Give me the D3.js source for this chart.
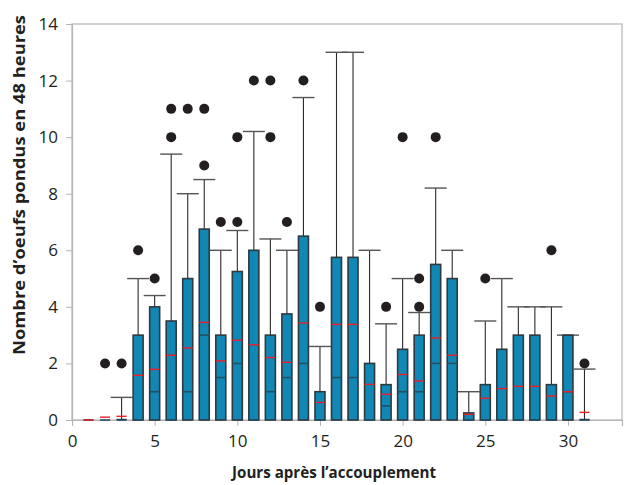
<!DOCTYPE html>
<html>
<head>
<meta charset="utf-8">
<script src="https://cdn.jsdelivr.net/npm/d3@7"></script>
<style>
  body { margin: 0; background: #fff; }
  text { font-family: "Open Sans", "DejaVu Sans", sans-serif; fill: #231f20; }
</style>
</head>
<body>
<script>
var w = 624
var h = 485

// one entry per day after mating
var days      = [1,2,3,4,5,6,7,8,9,10,11,12,13,14,15,16,17,18,19,20,21,22,23,24,25,26,27,28,29,30,31]
var q1        = [0,0,0,0,0,0,0,0,0,0,0,0,0,0,0,0,0,0,0,0,0,0,0,0,0,0,0,0,0,0,0]
var median    = [0,0,0,0,1,0,1,3,1.5,2,0,1,1.5,2,0,1.5,1.5,0,0.5,1,1,2,2,0,0,0,0,0,0,1,0]
var mean      = [0,0.1,0.13,1.58,1.79,2.29,2.55,3.45,2.09,2.82,2.66,2.21,2.04,3.43,0.62,3.38,3.38,1.26,0.91,1.61,1.38,2.9,2.29,0.2,0.77,1.11,1.19,1.19,0.85,1.0,0.27]
var q3        = [0,0,0,3,4,3.5,5,6.75,3,5.25,6,3,3.75,6.5,1,5.75,5.75,2,1.25,2.5,3,5.5,5,0.25,1.25,2.5,3,3,1.25,3,0]
var whiskerHi = [0,0,0.8,5,4.4,9.4,8,8.5,6,6.7,10.2,6.4,6,11.4,2.6,13,13,6,3.4,5,3.8,8.2,6,1,3.5,5,4,4,4,3,1.8]
var outliers  = [[],[2],[2],[6],[5],[10,11],[11],[9,11],[7],[7,10],[12],[10,12],[7],[12],[4],[],[],[],[4],[10],[4,5],[10],[],[],[5],[],[],[],[6],[],[2]]

var xTicks = [0,5,10,15,20,25,30]
var yTicks = [0,2,4,6,8,10,12,14]

var mLeft = 72, mRight = 622, mTop = 24, mBottom = 420

var x = d3.scaleLinear().domain([0, 33.27]).range([mLeft, mRight])
var y = d3.scaleLinear().domain([0, 14]).range([mBottom, mTop])

var svg = d3.select("body")
  .append("svg")
  .attr("width", w)
  .attr("height", h)

// frame
svg.append("rect")
  .attr("x", mLeft)
  .attr("y", mTop)
  .attr("width", mRight - mLeft)
  .attr("height", mBottom - mTop)
  .attr("fill", "none")
  .attr("stroke", "#b5b5b5")
  .attr("stroke-width", 1.2)

svg.append("g")
  .attr("transform", "translate(" + mLeft + ",0)")
  .call(d3.axisLeft(y).tickValues(yTicks).tickSize(6).tickPadding(8).tickFormat(d3.format("d")))
svg.append("g")
  .attr("transform", "translate(0," + mBottom + ")")
  .call(d3.axisBottom(x).tickValues(xTicks).tickSize(6).tickPadding(9).tickFormat(d3.format("d")))

svg.selectAll(".domain").attr("stroke", "#b5b5b5").attr("stroke-width", 1.2)
svg.selectAll(".tick line").attr("stroke", "#b5b5b5")
svg.selectAll(".tick text")
  .style("font-size", "17px")
  .attr("fill", "#231f20")
  .attr("font-family", "Open Sans, sans-serif")

var rows = days.map(function(d, i) {
  return { day: d, q1: q1[i], med: median[i], mean: mean[i], q3: q3[i], hi: whiskerHi[i], out: outliers[i] }
})

var bw = 5, cw = 11

var g = svg.selectAll(".day")
  .data(rows)
  .enter().append("g")
  .attr("class", "day")

// whisker stem
g.append("line")
  .attr("x1", function(d) { return x(d.day) })
  .attr("x2", function(d) { return x(d.day) })
  .attr("y1", function(d) { return y(d.q1) })
  .attr("y2", function(d) { return y(d.hi) })
  .attr("stroke", "#2a2a2a")
  .attr("stroke-width", 1.1)

// caps
g.filter(function(d) { return d.hi > 0 }).append("line")
  .attr("x1", function(d) { return x(d.day) - cw })
  .attr("x2", function(d) { return x(d.day) + cw })
  .attr("y1", function(d) { return y(d.hi) })
  .attr("y2", function(d) { return y(d.hi) })
  .attr("stroke", "#555")
  .attr("stroke-width", 1.4)
g.filter(function(d) { return d.hi > 0 }).append("line")
  .attr("x1", function(d) { return x(d.day) - bw })
  .attr("x2", function(d) { return x(d.day) + bw })
  .attr("y1", y(0) - 0.5)
  .attr("y2", y(0) - 0.5)
  .attr("stroke", "#222")
  .attr("stroke-width", 1.4)

// boxes
g.filter(function(d) { return d.q3 > d.q1 }).append("rect")
  .attr("x", function(d) { return x(d.day) - bw })
  .attr("y", function(d) { return y(d.q3) })
  .attr("width", bw * 2)
  .attr("height", function(d) { return y(d.q1) - y(d.q3) })
  .attr("fill", "#1087b5")
  .attr("stroke", "#2d3a40")
  .attr("stroke-width", 1.6)

// median
g.append("line")
  .attr("x1", function(d) { return x(d.day) - bw })
  .attr("x2", function(d) { return x(d.day) + bw })
  .attr("y1", function(d) { return y(d.med) })
  .attr("y2", function(d) { return y(d.med) })
  .attr("stroke", "#234f63")
  .attr("stroke-width", 1.6)

// mean
g.append("line")
  .attr("x1", function(d) { return x(d.day) - bw })
  .attr("x2", function(d) { return x(d.day) + bw })
  .attr("y1", function(d) { return y(d.mean) })
  .attr("y2", function(d) { return y(d.mean) })
  .attr("stroke", "#ee1c25")
  .attr("stroke-width", 1.4)

// outliers
g.selectAll("circle")
  .data(function(d) { return d.out.map(function(v) { return { day: d.day, v: v } }) })
  .enter().append("circle")
  .attr("cx", function(d) { return x(d.day) })
  .attr("cy", function(d) { return y(d.v) })
  .attr("r", 5)
  .attr("fill", "#231f20")

svg.append("text")
  .attr("x", 334)
  .attr("y", 478)
  .attr("text-anchor", "middle")
  .style("font-size", "16px")
  .style("font-weight", "bold")
  .attr("textLength", 204)
  .attr("lengthAdjust", "spacingAndGlyphs")
  .text("Jours après l’accouplement")

svg.append("text")
  .attr("transform", "translate(25,185) rotate(-90)")
  .attr("text-anchor", "middle")
  .style("font-size", "16px")
  .style("font-weight", "bold")
  .attr("textLength", 340)
  .attr("lengthAdjust", "spacingAndGlyphs")
  .text("Nombre d’oeufs pondus en 48 heures")
</script>
</body>
</html>
